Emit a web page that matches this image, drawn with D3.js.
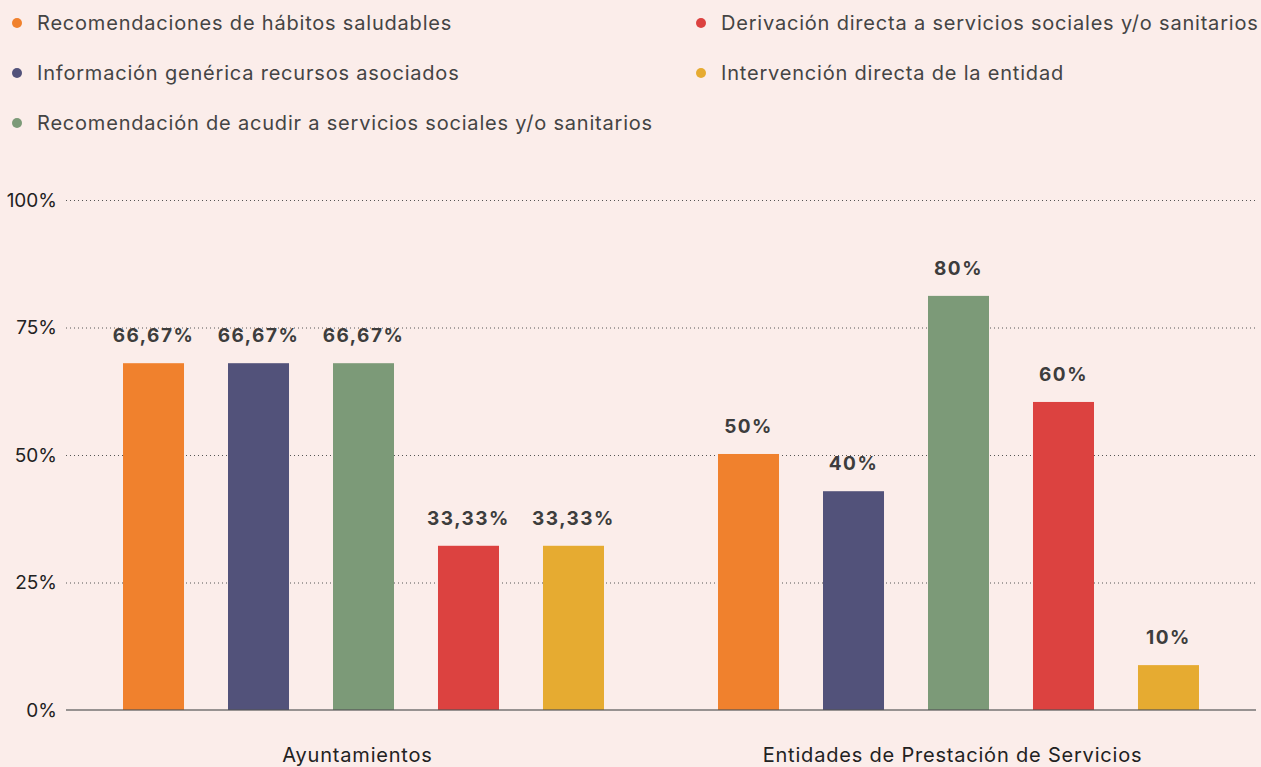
<!DOCTYPE html>
<html>
<head>
<meta charset="utf-8">
<script src="https://d3js.org/d3.v7.min.js"></script>
<style>
  body { margin: 0; background: #fbedea; }
  svg { display: block; font-family: Inter, "Open Sans", sans-serif; }
</style>
</head>
<body>
<svg id="chart" width="1261" height="767"></svg>
<script>
// data
var groups = ["Ayuntamientos", "Entidades de Prestación de Servicios"];
var series = [
  "Recomendaciones de hábitos saludables",
  "Información genérica recursos asociados",
  "Recomendación de acudir a servicios sociales y/o sanitarios",
  "Derivación directa a servicios sociales y/o sanitarios",
  "Intervención directa de la entidad"
];
var colors = ["#f0812d", "#52527a", "#7c9a78", "#dc4240", "#e6ab31"];
// bar heights as drawn (percent)
var ayuntamientos = [68, 68, 68, 32.2, 32.2];
var entidades = [50.2, 42.9, 81.2, 60.4, 8.8];
// printed labels
var ayuntamientosLabels = ["66,67%", "66,67%", "66,67%", "33,33%", "33,33%"];
var entidadesLabels = ["50%", "40%", "80%", "60%", "10%"];
var yTicks = [0, 25, 50, 75, 100];

var values = [ayuntamientos, entidades];
var labels = [ayuntamientosLabels, entidadesLabels];

var svg = d3.select("#chart");
var plotLeft = 66, plotRight = 1256, plotTop = 200, plotBottom = 710;

var x0 = d3.scaleBand().domain(groups).range([plotLeft, plotRight]);
var x1 = d3.scaleBand().domain(d3.range(series.length)).range([0, x0.bandwidth()])
  .paddingInner(0.419).paddingOuter(0.543);
var y = d3.scaleLinear().domain([0, 100]).range([plotBottom, plotTop]);

// gridlines
svg.append("g").selectAll("line")
  .data(yTicks.filter(function(d) { return d > 0; }))
  .enter().append("line")
    .attr("x1", plotLeft).attr("x2", plotRight)
    .attr("y1", function(d) { return y(d) + 0.5; })
    .attr("y2", function(d) { return y(d) + 0.5; })
    .attr("stroke", "#555").attr("stroke-width", 1)
    .attr("stroke-dasharray", "1,3");

// y labels
svg.append("g").selectAll("text")
  .data(yTicks)
  .enter().append("text")
    .attr("x", 57)
    .attr("y", function(d) { return y(d); })
    .attr("dy", "0.35em")
    .attr("text-anchor", "end")
    .attr("font-size", 19)
    .attr("fill", "#222")
    .text(function(d) { return d + "%"; });

// bars
groups.forEach(function(g, gi) {
  var gg = svg.append("g").attr("transform", "translate(" + x0(g) + ",0)");
  gg.selectAll("rect")
    .data(values[gi])
    .enter().append("rect")
      .attr("x", function(d, i) { return x1(i); })
      .attr("width", x1.bandwidth())
      .attr("y", function(d) { return y(d); })
      .attr("height", function(d) { return y(0) - y(d); })
      .attr("fill", function(d, i) { return colors[i]; });
  gg.selectAll("text")
    .data(values[gi])
    .enter().append("text")
      .attr("x", function(d, i) { return x1(i) + x1.bandwidth() / 2; })
      .attr("y", function(d) { return y(d) - 21; })
      .attr("text-anchor", "middle")
      .attr("font-size", 19)
      .attr("font-weight", 700)
      .attr("letter-spacing", "1.5px")
      .attr("fill", "#3d3d3d")
      .text(function(d, i) { return labels[gi][i]; });
});

// baseline
svg.append("line")
  .attr("x1", plotLeft).attr("x2", plotRight)
  .attr("y1", y(0)).attr("y2", y(0))
  .attr("stroke", "#555").attr("stroke-opacity", 0.8).attr("stroke-width", 1.5);

// group labels
svg.append("g").selectAll("text")
  .data(groups)
  .enter().append("text")
    .attr("x", function(d) { return x0(d) + x0.bandwidth() / 2 - 6; })
    .attr("y", 762)
    .attr("text-anchor", "middle")
    .attr("font-size", 20)
    .attr("letter-spacing", "0.8px")
    .attr("fill", "#222")
    .text(function(d) { return d; });

// legend
var legendPos = [[17, 23], [17, 73], [17, 123], [701, 23], [701, 73]];
var legend = svg.append("g").selectAll("g")
  .data(series)
  .enter().append("g")
    .attr("transform", function(d, i) { return "translate(" + legendPos[i][0] + "," + legendPos[i][1] + ")"; });
legend.append("circle")
  .attr("r", 5)
  .attr("fill", function(d, i) { return colors[i]; });
legend.append("text")
  .attr("x", 20)
  .attr("dy", "0.35em")
  .attr("font-size", 20)
  .attr("letter-spacing", "0.8px")
  .attr("fill", "#444")
  .text(function(d) { return d; });
</script>
</body>
</html>
